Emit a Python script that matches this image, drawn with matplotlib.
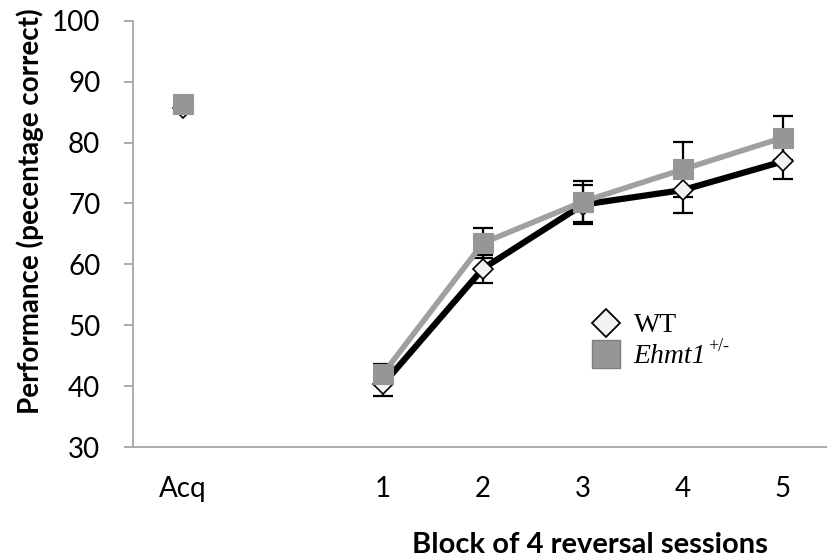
import matplotlib
matplotlib.use('Agg')
import matplotlib.pyplot as plt
from matplotlib.lines import Line2D
import numpy as np

# categories (second slot is an empty gap between Acq and block 1)
categories = ['Acq', '', '1', '2', '3', '4', '5']
wt_mean = [85.7, np.nan, 40.3, 59.3, 69.8, 72.2, 76.9]
wt_err = [0.8, np.nan, 2.0, 2.3, 3.2, 3.8, 2.9]
ehmt_mean = [86.4, np.nan, 42.0, 63.5, 70.3, 75.6, 80.8]
ehmt_err = [0.8, np.nan, 1.7, 2.5, 3.4, 4.5, 3.6]

plt.rcParams['font.family'] = ['Lato', 'DejaVu Sans']

axis_gray = '#a6a6a6'
line_gray = '#a0a0a0'
marker_gray = '#969696'

fig = plt.figure(figsize=(8.27, 5.58), dpi=100)
ax = fig.add_axes([133 / 827, 1 - 447 / 558, 700 / 827, (447 - 20.7) / 558])

x = np.arange(len(categories))

# error bars behind the markers
ax.errorbar(x, wt_mean, yerr=wt_err, fmt='none', ecolor='black',
            elinewidth=1.6, capsize=7, capthick=1.6, zorder=2)
ax.errorbar(x, ehmt_mean, yerr=ehmt_err, fmt='none', ecolor='black',
            elinewidth=1.6, capsize=7, capthick=1.6, zorder=2)

ax.plot(x, wt_mean, color='black', linewidth=4.5, zorder=3)
ax.plot(x, wt_mean, linestyle='none', marker='D', markersize=10,
        markerfacecolor='#f2f2f2', markeredgecolor='black',
        markeredgewidth=1.2, zorder=4)
ax.plot(x, ehmt_mean, color=line_gray, linewidth=4, zorder=5)
ax.plot(x, ehmt_mean, linestyle='none', marker='s', markersize=15,
        markerfacecolor=marker_gray, markeredgecolor=marker_gray,
        markeredgewidth=0.8, zorder=6)

ax.set_xlim(-0.5, len(categories) - 0.5)
ax.set_ylim(30, 100)
ax.set_yticks(np.arange(30, 101, 10))
ax.set_xticks(x)
ax.set_xticklabels(categories)

for side in ['top', 'right']:
    ax.spines[side].set_visible(False)
for side in ['left', 'bottom']:
    ax.spines[side].set_color(axis_gray)
    ax.spines[side].set_linewidth(1.3)

ax.tick_params(axis='y', direction='out', length=6.5, width=1.3,
               color=axis_gray, labelsize=20, pad=17)
ax.tick_params(axis='x', length=0, labelsize=20, pad=21)

fig.text(30 / 827, 1 - 211 / 558, 'Performance (pecentage correct)',
         rotation=90, ha='center', va='center', fontsize=20,
         fontweight='bold')
fig.text(590 / 827, 1 - 545 / 558, 'Block of 4 reversal sessions',
         ha='center', va='center', fontsize=21, fontweight='bold')

handles = [
    Line2D([], [], linestyle='none', marker='D', markersize=14.5,
           markerfacecolor='#f2f2f2', markeredgecolor='black',
           markeredgewidth=1.3),
    Line2D([], [], linestyle='none', marker='s', markersize=20,
           markerfacecolor=marker_gray, markeredgecolor='#7f7f7f',
           markeredgewidth=1.0),
]
leg = ax.legend(handles, ['WT', 'Ehmt1'], loc='upper left',
                bbox_to_anchor=(592 / 827, 1 - 313 / 558),
                bbox_transform=fig.transFigure, frameon=False,
                prop={'family': 'Liberation Serif', 'size': 20},
                handlelength=1.0, handletextpad=0.5, labelspacing=0.2,
                borderaxespad=0, borderpad=0)
leg.get_texts()[1].set_style('italic')

# superscript genotype tag after the italic label
fig.canvas.draw()
bb = leg.get_texts()[1].get_window_extent()
fig.text(bb.x1 / fig.bbox.width + 0.002, bb.y1 / fig.bbox.height + 0.012,
         '+/-', ha='left', va='top', fontsize=13,
         family='Liberation Serif')

plt.savefig('out.png', dpi=100)
